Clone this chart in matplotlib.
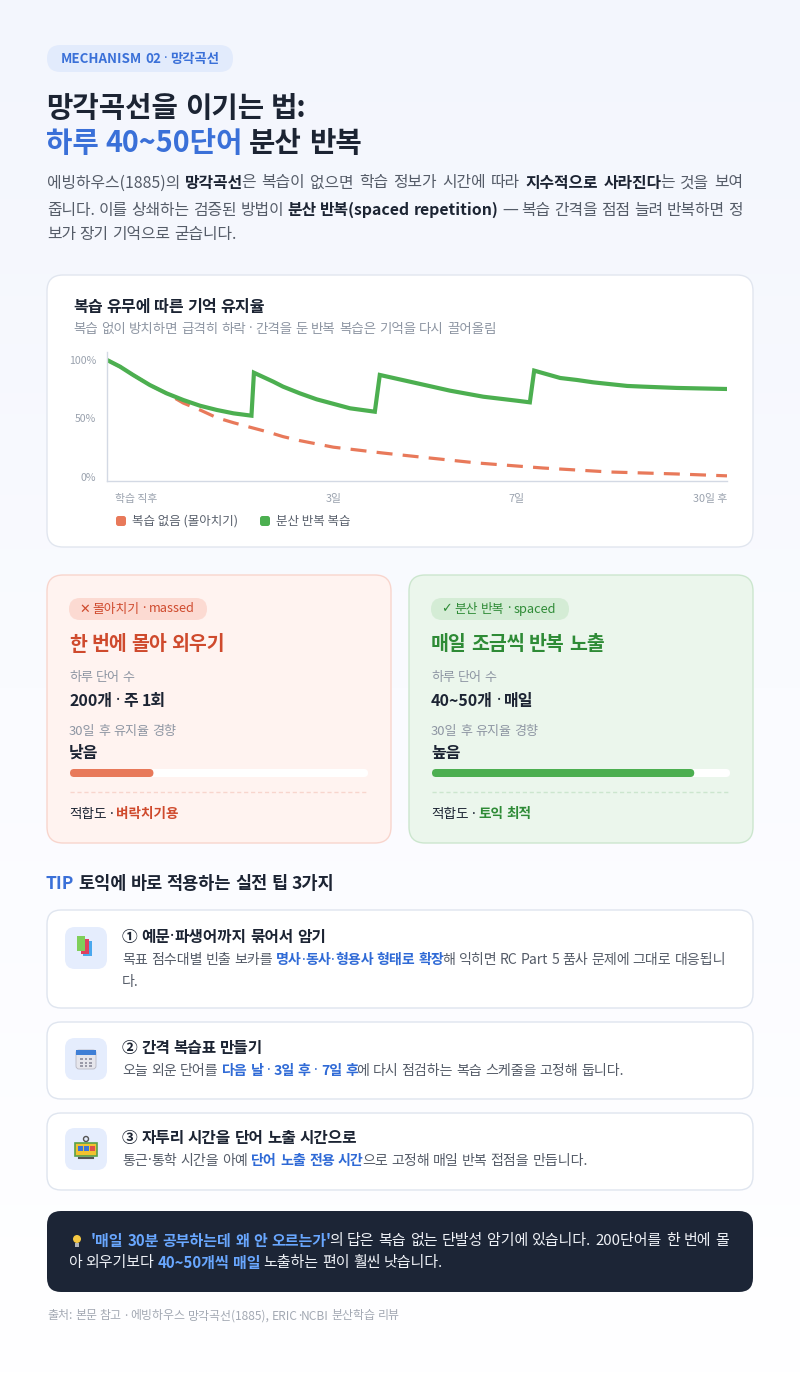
import numpy as np
import matplotlib
matplotlib.use("Agg")
import matplotlib.pyplot as plt
from matplotlib import _text_helpers
from matplotlib.font_manager import FontProperties, fontManager, get_font
from matplotlib.patches import FancyBboxPatch, Rectangle, Circle
from matplotlib.colors import LinearSegmentedColormap

FONT = ['Noto Sans CJK KR', 'DejaVu Sans']
LATIN = ['Noto Sans', 'DejaVu Sans']
plt.rcParams['font.family'] = FONT

# ---- chart data (x = % of the time axis, y = retention %) ----
massed_x = [0, 2.1, 4.2, 6.9, 9.6, 12.3, 15.0, 17.7, 20.4, 23.1, 25.8, 28.4, 31.1,
            36.5, 44.5, 50.5, 59.7, 70.3, 81.1, 91.9, 100]
massed_y = [100, 94.3, 87.2, 78.6, 71.5, 63.2, 57.3, 50.7, 46.4, 42.5, 38.7, 34.5, 31.1,
            25.5, 20.5, 17.1, 12.0, 7.7, 4.3, 2.6, 1.0]
spaced_x = [0, 2.1, 4.2, 6.9, 9.6, 12.3, 15.0, 17.7, 20.4, 23.3,
            23.7, 26.8, 28.4, 31.1, 33.8, 39.2, 43.2,
            44.0, 50.0, 55.3, 60.7, 66.1, 68.2,
            68.9, 73.1, 75.8, 78.4, 83.9, 86.5, 91.9, 94.6, 100]
spaced_y = [100, 94.3, 87.2, 78.6, 71.5, 65.8, 60.9, 57.3, 54.4, 52.4,
            89.1, 81.5, 77.2, 71.5, 66.4, 58.7, 55.8,
            87.2, 80.1, 73.8, 68.6, 65.2, 63.8,
            90.9, 84.6, 82.9, 80.9, 77.8, 77.2, 76.1, 75.8, 75.2]
y_ticks = [0, 50, 100]
y_tick_labels = ['0%', '50%', '100%']
x_tick_pos = [0, 36.6, 66.1, 100]
x_tick_labels = ['학습 직후', '3일', '7일', '30일 후']
legend_labels = ['복습 없음 (몰아치기)', '분산 반복 복습']

# ---- comparison cards ----
card_tags = ['✕ 몰아치기 · massed', '✓ 분산 반복 · spaced']
card_titles = ['한 번에 몰아 외우기', '매일 조금씩 반복 노출']
card_words = ['200개 · 주 1회', '40~50개 · 매일']
card_trend = ['낮음', '높음']
card_bar = [0.28, 0.88]
card_fit = ['벼락치기용', '토익 최적']

# ---- tips ----
tip_titles = ['① 예문·파생어까지 묶어서 암기', '② 간격 복습표 만들기', '③ 자투리 시간을 단어 노출 시간으로']

RED = '#e8795a'
GREEN = '#4caf50'
BLUE = '#3a70d8'
DARK = '#1c2433'
GRAY = '#555c68'
LIGHT = '#8e96a3'
NARROW = set('·—✕✓')

fig = plt.figure(figsize=(8, 13.77), dpi=100)
bg = fig.add_axes([0, 0, 1, 1])
bg.set_xlim(0, 800)
bg.set_ylim(1377, 0)
bg.axis('off')

# background gradient
cmap = LinearSegmentedColormap.from_list('bg', ['#f3f6fd', '#fafbff', '#ffffff'])
bg.imshow(np.linspace(0, 1, 256).reshape(-1, 1), cmap=cmap, aspect='auto',
          extent=[0, 800, 1377, 0], zorder=0)

_fonts = {}


def pen_pos(s, size, bold, fam):
    # glyph origins (pixels) for string s
    key = (tuple(fam), bold)
    if key not in _fonts:
        fp = FontProperties(family=fam, weight='bold' if bold else 'normal')
        _fonts[key] = fontManager._find_fonts_by_props(fp)
    font = get_font(_fonts[key])
    font.set_size(size, 100)
    return [it.x for it in _text_helpers.layout(s, font)]


def advance(s, nxt, size, bold, narrow):
    fam = LATIN if narrow else FONT
    c = nxt if nxt else 'H'
    return pen_pos(s + c, size, bold, fam)[len(s)]


def box(x0, y0, x1, y1, fc, ec='none', r=14, lw=1.0, z=1):
    p = FancyBboxPatch((x0, y0), x1 - x0, y1 - y0,
                       boxstyle=f"round,pad=0,rounding_size={r}",
                       fc=fc, ec=ec, lw=lw, zorder=z)
    bg.add_patch(p)
    return p


def chunks(word):
    # split a word so that dots / dashes use a latin font (narrow glyphs)
    out, cur, cur_n = [], '', None
    for ch in word:
        n = ch in NARROW
        if cur and n != cur_n:
            out.append((cur, cur_n))
            cur = ''
        cur += ch
        cur_n = n
    if cur:
        out.append((cur, cur_n))
    return out


def rich(x, y, runs, size, width=None):
    # runs: (text, color, bold); width -> justify the line to that width
    items = []
    for text, color, bold in runs:
        parts = text.split(' ')
        for i, part in enumerate(parts):
            if i > 0:
                items.append(None)
            for c, narrow in chunks(part):
                items.append((c, color, bold, narrow))
    widths = []
    for k, it in enumerate(items):
        if it is None:
            widths.append(0)
            continue
        nxt = items[k + 1] if k + 1 < len(items) else None
        nc = nxt[0][0] if (nxt is not None and nxt[3] == it[3]) else None
        w = advance(it[0], nc, size, it[2], it[3])
        if nc is not None and not it[3] and nxt[2] != it[2]:
            w -= 0.18 * size   # tighten style changes inside a word
        widths.append(w)
    n_sp = sum(1 for it in items if it is None)
    sp = advance(' ', None, size, False, False)
    if width is not None and n_sp:
        sp = max((width - sum(widths)) / n_sp, sp * 0.6)
    cx = x
    for it, w in zip(items, widths):
        if it is None:
            cx += sp
            continue
        bg.text(cx, y, it[0], color=it[1], fontsize=size,
                fontweight='bold' if it[2] else 'normal',
                family=LATIN if it[3] else FONT,
                va='center', ha='left', zorder=6)
        cx += w
    return cx


def label(x, y, text, size, color, bold=False):
    return rich(x, y, [(text, color, bold)], size)


# ---- header ----
box(47, 45, 233, 72, '#e2ebfc', r=13.5)
label(61, 59, 'MECHANISM 02 · 망각곡선', 9.6, BLUE, True)
label(46, 108, '망각곡선을 이기는 법:', 20.7, DARK, True)
rich(46, 143, [('하루 40~50단어', BLUE, True), (' 분산 반복', DARK, True)], 20.7)

PS = 11.4
rich(47, 183, [('에빙하우스(1885)의 ', GRAY, False), ('망각곡선', DARK, True),
               ('은 복습이 없으면 학습 정보가 시간에 따라 ', GRAY, False),
               ('지수적으로 사라진다', DARK, True), ('는 것을 보여', GRAY, False)], PS, width=696)
rich(47, 210, [('줍니다. 이를 상쇄하는 검증된 방법이 ', GRAY, False),
               ('분산 반복(spaced repetition)', DARK, True),
               (' — 복습 간격을 점점 늘려 반복하면 정', GRAY, False)], PS, width=696)
rich(47, 235, [('보가 장기 기억으로 굳습니다.', GRAY, False)], PS)

# ---- chart card ----
box(47, 275, 753, 547, 'white', ec='#e1e6ef', r=16)
label(73, 307, '복습 유무에 따른 기억 유지율', 11.6, DARK, True)
label(73, 329, '복습 없이 방치하면 급격히 하락 · 간격을 둔 반복 복습은 기억을 다시 끌어올림', 9.7, LIGHT)

ax = fig.add_axes([107 / 800, 1 - 481 / 1377, 620 / 800, 129 / 1377])
ax.set_facecolor('none')
ax.set_xlim(0, 100)
ax.set_ylim(-3.4, 106.8)
ax.plot(massed_x, massed_y, color=RED, lw=2.3, ls=(0, (5, 3.2)), solid_capstyle='butt')
ax.plot(spaced_x, spaced_y, color=GREEN, lw=3.0, solid_joinstyle='miter')
for s in ['top', 'right']:
    ax.spines[s].set_visible(False)
for s in ['left', 'bottom']:
    ax.spines[s].set_color('#d3d9e4')
    ax.spines[s].set_linewidth(1.0)
ax.set_yticks(y_ticks)
ax.set_yticklabels(y_tick_labels)
ax.set_xticks([])
ax.tick_params(axis='y', length=0, pad=8, labelsize=7.6, labelcolor='#9aa2ae')
for pos, lab, ha in zip(x_tick_pos, x_tick_labels, ['left', 'center', 'center', 'right']):
    off = 1.3 if ha == 'left' else 0
    ax.text(pos + off, -0.1, lab, transform=ax.get_xaxis_transform(), ha=ha, va='top',
            fontsize=7.8, color='#9aa2ae')

# legend
for lx, lab, col in zip([116, 260], legend_labels, [RED, GREEN]):
    box(lx, 516, lx + 10, 526, col, r=2.5, z=5)
    bg.text(lx + 16, 521, lab, fontsize=9.0, color='#59606c', va='center', ha='left', zorder=5)

# ---- comparison cards ----
card_fc = ['#fff3f0', '#ebf6ec']
card_ec = ['#f8d5cd', '#cce6ce']
tag_fc = ['#fcdad2', '#d4ecd5']
accent = ['#cf4a2d', '#2e8b36']
bar_col = [RED, GREEN]
for i, x0 in enumerate([47, 409]):
    box(x0, 575, x0 + 344, 843, card_fc[i], ec=card_ec[i], r=16)
    box(x0 + 22, 598, x0 + 160, 620, tag_fc[i], r=11, z=2)
    label(x0 + 32, 609, card_tags[i], 9.2, accent[i])
    label(x0 + 22, 645, card_titles[i], 14, accent[i], True)
    label(x0 + 22, 678, '하루 단어 수', 9.4, LIGHT)
    label(x0 + 22, 701, card_words[i], 11.5, DARK, True)
    label(x0 + 22, 731, '30일 후 유지율 경향', 9.4, LIGHT)
    label(x0 + 22, 753, card_trend[i], 11.5, DARK, True)
    bx0, bx1 = x0 + 23, x0 + 321
    box(bx0, 769, bx1, 777, 'white', r=4, z=2)
    box(bx0, 769, bx0 + (bx1 - bx0) * card_bar[i], 777, bar_col[i], r=4, z=3)
    bg.plot([bx0, bx1], [792, 792], color=card_ec[i], lw=1, ls=(0, (3, 2)), zorder=3)
    rich(x0 + 22, 814, [('적합도 · ', DARK, False), (card_fit[i], accent[i], True)], 9.8)

# ---- tips ----
end = label(46, 884, 'TIP', 12.6, BLUE, True)
label(end + 4, 884, '토익에 바로 적용하는 실전 팁 3가지', 12.6, DARK, True)

TBLUE = '#2f6ad6'
tip_boxes = [(910, 1008), (1022, 1099), (1113, 1190)]
tip_title_y = [937, 1048, 1138]
tip_bodies = [
    [[('목표 점수대별 빈출 보카를 ', GRAY, False), ('명사·동사·형용사 형태로 확장', TBLUE, True),
      ('해 익히면 RC Part 5 품사 문제에 그대로 대응됩니', GRAY, False)],
     [('다.', GRAY, False)]],
    [[('오늘 외운 단어를 ', GRAY, False), ('다음 날 · 3일 후 · 7일 후', TBLUE, True),
      ('에 다시 점검하는 복습 스케줄을 고정해 둡니다.', GRAY, False)]],
    [[('통근·통학 시간을 아예 ', GRAY, False), ('단어 노출 전용 시간', TBLUE, True),
      ('으로 고정해 매일 반복 접점을 만듭니다.', GRAY, False)]],
]
tip_justify = [[604, None], [None], [None]]
for i, (y0, y1) in enumerate(tip_boxes):
    box(47, y0, 753, y1, 'white', ec='#dfe5ef', r=14)
    iy = tip_title_y[i] - 10
    box(65, iy, 107, iy + 42, '#e5edfd', r=10, z=2)
    cx, cy = 86, iy + 21
    if i == 0:
        bg.add_patch(Rectangle((cx - 3, cy - 7), 9, 15, fc='#4aa8ee', zorder=3))
        bg.add_patch(Rectangle((cx - 5, cy - 9), 8, 15, fc='#e0405f', zorder=4))
        bg.add_patch(Rectangle((cx - 9, cy - 12), 8, 15, fc='#7fcf5a', zorder=5))
    elif i == 1:
        bg.add_patch(FancyBboxPatch((cx - 10, cy - 9), 20, 19, boxstyle='round,pad=0,rounding_size=3',
                                    fc='#e6e6ec', ec='#b7b7c2', lw=0.6, zorder=3))
        bg.add_patch(Rectangle((cx - 10, cy - 9), 20, 5, fc='#3f7fd6', zorder=4))
        for gx in range(3):
            for gy in range(3):
                bg.add_patch(Rectangle((cx - 6 + gx * 4.5, cy - 1 + gy * 3.6), 2.5, 2.2,
                                       fc='#9a9aa8', zorder=5))
    else:
        bg.add_patch(Rectangle((cx - 11, cy - 6), 22, 13, fc='#f2c230', ec='#5aa14a', lw=1.2, zorder=3))
        bg.add_patch(Rectangle((cx - 8, cy - 3), 5, 5, fc='#3b74d8', zorder=4))
        bg.add_patch(Rectangle((cx - 2, cy - 3), 5, 5, fc='#3b74d8', zorder=4))
        bg.add_patch(Rectangle((cx + 4, cy - 3), 5, 5, fc='#e0504a', zorder=4))
        bg.add_patch(Circle((cx, cy - 10), 2.5, fc='none', ec='#555', lw=1, zorder=4))
        bg.plot([cx - 7, cx + 7], [cy + 9, cy + 9], color='#555', lw=1.5, zorder=4)
    label(122, tip_title_y[i], tip_titles[i], 11.3, DARK, True)
    for j, line in enumerate(tip_bodies[i]):
        rich(122, tip_title_y[i] + 23 + 22 * j, line, 10.1, width=tip_justify[i][j])

# ---- dark callout ----
box(47, 1211, 753, 1292, '#1c2536', r=14)
bg.add_patch(Circle((77, 1239), 4, fc='#f5c842', zorder=5))
bg.add_patch(Rectangle((75, 1243), 4, 4, fc='#b0b4bb', zorder=5))
CB = '#69a7ff'
WH = '#eef1f6'
rich(91, 1241, [("'매일 30분 공부하는데 왜 안 오르는가'", CB, True),
                ('의 답은 복습 없는 단발성 암기에 있습니다. 200단어를 한 번에 몰', WH, False)], 10.8,
     width=638)
rich(68, 1263, [('아 외우기보다 ', WH, False), ('40~50개씩 매일', CB, True),
                (' 노출하는 편이 훨씬 낫습니다.', WH, False)], 10.8)

label(47, 1316, '출처: 본문 참고 · 에빙하우스 망각곡선(1885), ERIC·NCBI 분산학습 리뷰', 8.6, '#a3a9b3')

fig.savefig('out.png', dpi=100)
